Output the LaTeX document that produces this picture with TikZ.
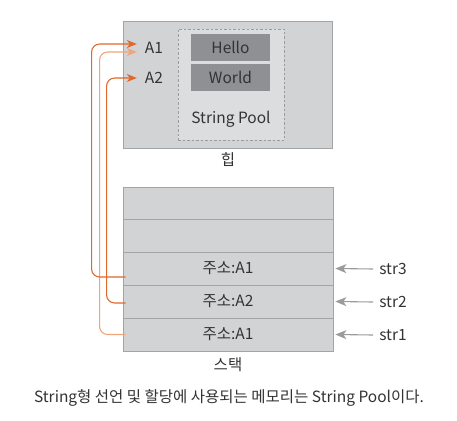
\documentclass[tikz,border=0pt]{standalone}
\usepackage{fontspec}
\setmainfont{Noto Sans CJK KR}
\usetikzlibrary{arrows.meta}
\definecolor{boxfill}{HTML}{D2D3D5}
\definecolor{boxline}{HTML}{A3A4A6}
\definecolor{poolfill}{HTML}{DCDDDF}
\definecolor{strfill}{HTML}{8F9093}
\definecolor{txt}{HTML}{333333}
\definecolor{orgdark}{HTML}{E2672B}
\definecolor{orglight}{HTML}{F0A47C}
\definecolor{grayarrow}{HTML}{9A9B9D}
\begin{document}
\begin{tikzpicture}[x=1pt,y=-1pt,
  every node/.style={text=txt,font=\fontsize{15.5}{18}\selectfont},
  area/.style={draw=boxline,fill=boxfill,line width=0.8pt,inner sep=0pt},
  rowbox/.style={area,minimum width=210pt,minimum height=33pt},
  pool/.style={draw=grayarrow,fill=poolfill,dashed,dash pattern=on 2.5pt off 2pt,line width=0.8pt,minimum width=106pt,minimum height=111pt,inner sep=0pt},
  strbox/.style={fill=strfill,minimum width=79pt,minimum height=27pt,inner sep=0pt},
  lbl/.style={inner sep=0pt},
  ref/.style={line width=1.1pt,rounded corners=8pt,-{Stealth[length=10pt,width=8pt,inset=3pt]}},
  ptr/.style={draw=grayarrow,line width=1.1pt,-{Stealth[length=11pt,width=9pt,inset=3pt]}}]
\useasboundingbox (0,0) rectangle (457,420);
% heap
\node[area,minimum width=209pt,minimum height=127pt] (heap) at (227.5,84.5) {};
\node[pool] (pool) at (231,84.5) {};
\node[strbox] (hello) at (230.5,47.5) {Hello};
\node[strbox] (world) at (230.5,77) {World};
\node[lbl] (poolname) at (231,119) {String Pool};
\node[lbl] (a1) at (154,48) {A1};
\node[lbl] (a2) at (154,78) {A2};
\node[lbl] (heapname) at (228,160) {힙};
% stack
\node[rowbox,minimum height=32pt] (r5) at (228,203) {};
\node[rowbox] (r4) at (228,235.5) {};
\node[rowbox] (r3) at (228,268.5) {주소:A1};
\node[rowbox] (r2) at (228,301.5) {주소:A2};
\node[rowbox] (r1) at (228,334.5) {주소:A1};
\node[lbl] (stackname) at (228,365) {스택};
% variables
\node[lbl] (s3) at (393,269) {str3};
\node[lbl] (s2) at (393,302) {str2};
\node[lbl] (s1) at (393,335) {str1};
\draw[ptr] ([xshift=-6pt]s3.west) -- ([xshift=2pt]r3.east);
\draw[ptr] ([xshift=-6pt]s2.west) -- ([xshift=2pt]r2.east);
\draw[ptr] ([xshift=-6pt]s1.west) -- ([xshift=2pt]r1.east);
% references
\draw[ref,draw=orglight,color=orglight] ([xshift=3pt]r1.west) -- ++(-26,0) |- ([xshift=-8pt,yshift=-4pt]a1.west);
\draw[ref,draw=orgdark,color=orgdark] ([shift={(3pt,-1.5pt)}]r2.west) -- ++(-19,0) |- ([xshift=-8pt]a2.west);
\draw[ref,draw=orgdark,color=orgdark] ([shift={(3pt,-8.5pt)}]r3.west) -- ++(-34,0) |- ([xshift=-8pt,yshift=4pt]a1.west);
% caption
\node[lbl] (caption) at (229,398) {String형 선언 및 할당에 사용되는 메모리는 String Pool이다.};
\end{tikzpicture}
\end{document}
